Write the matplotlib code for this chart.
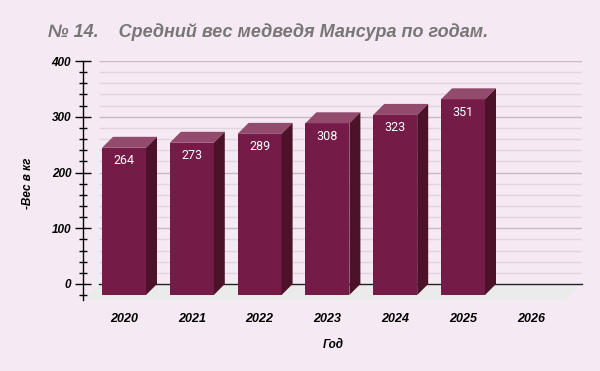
import matplotlib
matplotlib.use("Agg")
import matplotlib.pyplot as plt
from matplotlib.patches import Polygon
from matplotlib.ticker import MultipleLocator

years = ["2020", "2021", "2022", "2023", "2024", "2025", "2026"]
weights = [264, 273, 289, 308, 323, 351]
title = "№ 14.    Средний вес медведя Мансура по годам."
xlabel = "Год"
ylabel = "-Вес в кг"

BG = "#F5E9F3"
FRONT = "#751B47"
TOP = "#934B6D"
SIDE = "#4B1229"
FLOOR = "#EBEBEB"

W, H, DPI = 600, 371, 100
fig = plt.figure(figsize=(W / DPI, H / DPI), dpi=DPI, facecolor=BG)

ax_l, ax_r, ax_top, ax_bot = 83, 582, 61, 300
ax = fig.add_axes([ax_l / W, (H - ax_bot) / H, (ax_r - ax_l) / W, (ax_bot - ax_top) / H])
ax.set_facecolor(BG)

px_per_unit_y = (284 - 61) / 400.0
px_per_cat = 67.8
x0_px = 124
ymin = -(ax_bot - 284) / px_per_unit_y
ax.set_ylim(ymin, 400)
ax.set_xlim((ax_l - x0_px) / px_per_cat, (ax_r - x0_px) / px_per_cat)

ddx = 11 / px_per_cat
ddy = 11 / px_per_unit_y
fdx = 16 / px_per_cat
fdy = 16 / px_per_unit_y
bw = 44 / px_per_cat

xl, xr = ax.get_xlim()
wall_left = xl + fdx

ax.add_patch(Polygon([(wall_left, 0), (xr, 0), (xr - fdx, -fdy), (xl + 0.01, -fdy)],
                     closed=True, facecolor=FLOOR, edgecolor="none", zorder=1, clip_on=False))

for v in range(20, 401, 20):
    major = v % 100 == 0
    ax.plot([wall_left, xr], [v, v], color="#CBB8C7" if major else "#E2D4DF",
            lw=1.0, zorder=0.5, solid_capstyle="butt")
ax.plot([wall_left, xr], [0, 0], color="#222222", lw=1.0, zorder=1.5, clip_on=False)

for i, v in enumerate(weights):
    fl, fr = i - bw / 2, i + bw / 2
    ft, fb = v - ddy, -ddy
    front = Polygon([(fl, fb), (fr, fb), (fr, ft), (fl, ft)], closed=True,
                    facecolor=FRONT, edgecolor="none", zorder=3)
    top = Polygon([(fl, ft), (fr, ft), (fr + ddx, v), (fl + ddx, v)], closed=True,
                  facecolor=TOP, edgecolor="none", zorder=3)
    side = Polygon([(fr, fb), (fr + ddx, 0), (fr + ddx, v), (fr, ft)], closed=True,
                   facecolor=SIDE, edgecolor="none", zorder=3)
    for p in (front, top, side):
        ax.add_patch(p)
    ax.annotate(str(v), xy=(i, ft), xytext=(0, -13), textcoords="offset pixels",
                ha="center", va="center", color="white", fontsize=9,
                family="Roboto", zorder=4)

for s in ("top", "right", "bottom"):
    ax.spines[s].set_visible(False)
ax.spines["left"].set_color("black")
ax.spines["left"].set_linewidth(1.0)
ax.yaxis.set_minor_locator(MultipleLocator(20))
ax.set_yticks([0, 100, 200, 300, 400])
ax.tick_params(axis="y", which="major", direction="inout", length=11, width=1, pad=3,
               labelsize=8.5)
ax.tick_params(axis="y", which="minor", direction="inout", length=6, width=1)
for lab in ax.get_yticklabels():
    lab.set_fontweight("bold")
    lab.set_fontstyle("italic")
    lab.set_family("Liberation Sans")

ax.set_xticks(range(len(years)))
ax.set_xticklabels(years)
ax.tick_params(axis="x", length=0, pad=9, labelsize=9)
for lab in ax.get_xticklabels():
    lab.set_fontweight("bold")
    lab.set_fontstyle("italic")
    lab.set_family("Liberation Sans")

fig.text(333 / W, 1 - 345 / H, xlabel, ha="center", va="center", fontsize=8.5,
         fontweight="bold", fontstyle="italic", family="Liberation Sans")
fig.text(28 / W, 1 - 183 / H, ylabel, ha="center", va="center", rotation=90,
         fontsize=8.5, fontweight="bold", fontstyle="italic", family="Liberation Sans")
fig.text(48 / W, 1 - 32 / H, title, ha="left", va="center", fontsize=13,
         fontweight="bold", fontstyle="italic", family="Liberation Sans", color="#777777")

fig.savefig("out.png", dpi=DPI, facecolor=BG)
